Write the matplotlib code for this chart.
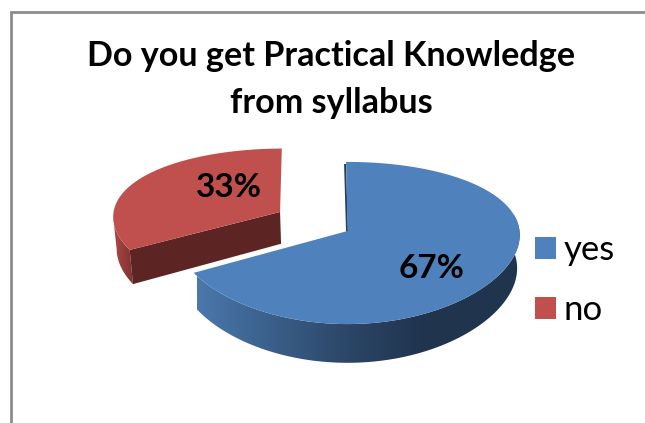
import numpy as np
import matplotlib
matplotlib.use('Agg')
import matplotlib.pyplot as plt
from matplotlib.colors import LinearSegmentedColormap
from matplotlib.patches import Patch, Polygon

plt.rcParams['font.family'] = ['Lato', 'DejaVu Sans']

# chart data
categories = ['yes', 'no']
shares = [67, 33]
title = 'Do you get Practical Knowledge\nfrom syllabus'

# look of the fake 3D pie (pixel space of the picture)
CX, CY, RX, RY, PERSP = 347.5, 231, 172, 79.3, 0.148
PERSP_X = 0.05
DEPTH = 33
START = 90.5
RED_SHIFT = (-0.397, 0.249)
RED_RADIUS = 0.98


def project(deg, radius=1.0, shift=(0, 0), depth=0):
    t = np.radians(deg)
    u = radius * np.cos(t) + shift[0]
    v = radius * np.sin(t) + shift[1]
    w = 1 / (1 + PERSP * v)
    wx = 1 / (1 + PERSP_X * v)
    rx = RX * (0.985 if depth else 1)
    return CX + rx * u * wx, CY - RY * v * w + depth * w


fig = plt.figure(figsize=(6.45, 4.23), dpi=100)
ax = fig.add_axes([0, 0, 1, 1])
ax.set_xlim(0, 645)
ax.set_ylim(423, 0)
ax.axis('off')

# chart frame, only left and top show
ax.plot([10.5, 10.5, 650], [430, 12, 12], color='#8c8c8c', lw=2, solid_joinstyle='miter')

sweep_yes = 360 * shares[0] / sum(shares)
sweep_no = 360 * shares[1] / sum(shares)
yes_end = START - sweep_yes + 360
no_end = START + sweep_no


def rim(deg_from, deg_to, shift, radius, colors, x0, x1):
    th = np.linspace(deg_from, deg_to, 100)
    xt, yt = project(th, radius, shift)
    xb, yb = project(th, radius, shift, DEPTH)
    pts = np.column_stack([np.r_[xt, xb[::-1]], np.r_[yt, yb[::-1]]])
    poly = Polygon(pts, closed=True, fc='none', ec='none')
    ax.add_patch(poly)
    cmap = LinearSegmentedColormap.from_list('rim', colors)
    im = ax.imshow(np.linspace(0, 1, 256).reshape(1, -1), cmap=cmap, aspect='auto',
                   extent=[x0, x1, 423, 0], zorder=2)
    im.set_clip_path(poly)


def face(deg_from, deg_to, shift, radius, color):
    th = np.linspace(deg_from, deg_to, 200)
    x, y = project(th, radius, shift)
    ax0, ay0 = project(0, 0, shift)
    ax.fill(np.r_[ax0, x], np.r_[ay0, y], color=color, lw=0, zorder=4)


# red slice: rim, cut wall, top
rim(no_end - 25, no_end, RED_SHIFT, RED_RADIUS, ['#b04a47', '#7a2f2d'], 112, 135)
cx0, cy0 = project(0, 0, RED_SHIFT)
cx0b, cy0b = project(0, 0, RED_SHIFT, DEPTH)
lx, ly = project(no_end, RED_RADIUS, RED_SHIFT)
lxb, lyb = project(no_end, RED_RADIUS, RED_SHIFT, DEPTH)
ax.fill([cx0, lx, lxb, cx0b], [cy0, ly, lyb, cy0b], color='#5c2523', lw=0, zorder=3)
face(START, no_end, RED_SHIFT, RED_RADIUS, '#c0504d')

# blue slice: rim, thin inner wall, top
blue_rim = [(0, '#4a78ac'), (0.2, '#3c628e'), (0.47, '#2b4566'), (0.68, '#20354f'), (1, '#20344e')]
rim(yes_end, 372, (0, 0), 1.0, blue_rim, 197, 525)
face(START - sweep_yes, START, (0, 0), 1.0, '#4f81bd')
tx, ty = project(START)
ax.plot([tx - 1, CX - 0.5], [ty + 3, CY], color='#24405f', lw=1.4, zorder=3.5)

# data labels
ax.text(432, 278, f'{shares[0]}%', ha='center', va='baseline', fontsize=24,
        fontweight='bold', color='black', zorder=6)
ax.text(228.5, 197, f'{shares[1]}%', ha='center', va='baseline', fontsize=24,
        fontweight='bold', color='black', zorder=6)

ax.text(331, 66, title.split('\n')[0], ha='center', va='baseline', fontsize=24.6, fontweight='bold')
ax.text(331, 113, title.split('\n')[1], ha='center', va='baseline', fontsize=24.6, fontweight='bold')

handles = [Patch(fc='#4f81bd', ec='none'), Patch(fc='#c0504d', ec='none')]
ax.legend(handles, categories, loc='upper left', bbox_to_anchor=(535, 234),
          bbox_transform=ax.transData, frameon=False, fontsize=25, borderpad=0, borderaxespad=0,
          handlelength=0.6, handleheight=0.6, handletextpad=0.22, labelspacing=0.82)

fig.savefig('out.png', dpi=100)
